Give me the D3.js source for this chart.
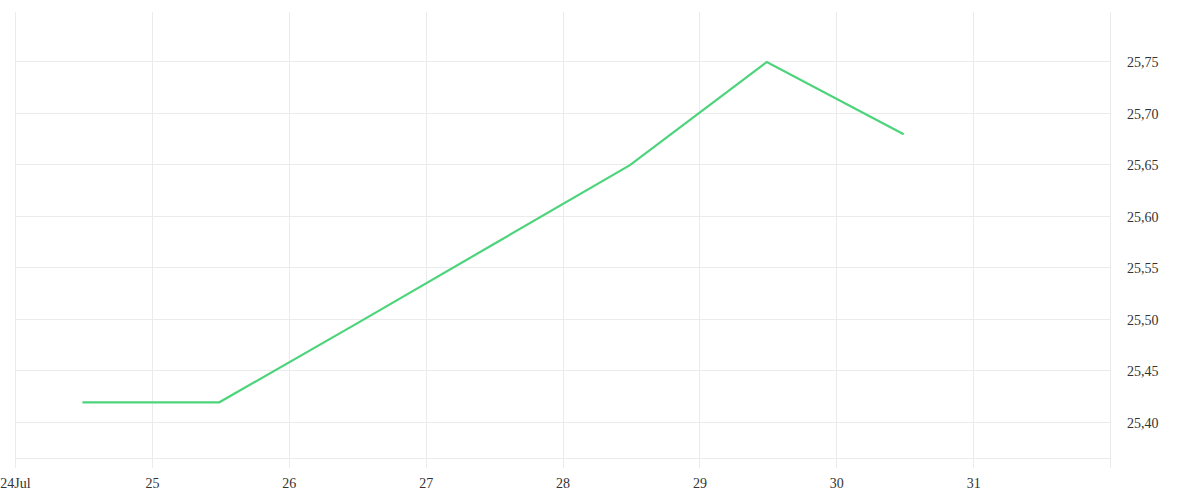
<!DOCTYPE html>
<html>
<head>
<meta charset="utf-8">
<script src="https://cdn.jsdelivr.net/npm/d3@7"></script>
<style>
  html, body { margin: 0; padding: 0; background: #fff; }
  svg { display: block; }
  text { font-family: "Liberation Serif", "DejaVu Serif", serif; }
</style>
</head>
<body>
<svg id="chart" width="1200" height="500"></svg>
<script>
const dates = ["2024-07-24T12:00", "2024-07-25T12:00", "2024-07-26T12:00", "2024-07-27T12:00", "2024-07-28T12:00", "2024-07-29T12:00", "2024-07-30T12:00"];
const values = [25.42, 25.42, 25.496, 25.573, 25.65, 25.75, 25.68];
const yTicks = [25.40, 25.45, 25.50, 25.55, 25.60, 25.65, 25.70, 25.75];
const xTickDays = ["2024-07-24", "2024-07-25", "2024-07-26", "2024-07-27", "2024-07-28", "2024-07-29", "2024-07-30", "2024-07-31"];

(function () {
const svg = d3.select("#chart");
const mLeft = 15, mRight = 1110, mTop = 12, mBottom = 468;
const parse = d3.timeParse("%Y-%m-%dT%H:%M");
const parseDay = d3.timeParse("%Y-%m-%d");

const x = d3.scaleTime()
  .domain([parseDay("2024-07-24"), parseDay("2024-08-01")])
  .range([mLeft, mRight]);
const y = d3.scaleLinear()
  .domain([25.3553, 25.7975])
  .range([mBottom, mTop]);

const grid = svg.append("g").attr("stroke", "#ebebeb").attr("stroke-width", 1);
xTickDays.forEach(d => {
  const xx = Math.round(x(parseDay(d))) + 0.5;
  grid.append("line").attr("x1", xx).attr("x2", xx).attr("y1", mTop).attr("y2", mBottom);
});
grid.append("line").attr("x1", mRight + 0.5).attr("x2", mRight + 0.5).attr("y1", mTop).attr("y2", mBottom);
yTicks.forEach(v => {
  const yy = Math.round(y(v)) + 0.5;
  grid.append("line").attr("x1", mLeft).attr("x2", mRight).attr("y1", yy).attr("y2", yy);
});
grid.append("line").attr("x1", mLeft).attr("x2", mRight).attr("y1", 458.5).attr("y2", 458.5);

const fmtDay = d3.timeFormat("%-d");
svg.append("g").selectAll("text").data(xTickDays).join("text")
  .attr("x", d => x(parseDay(d)) + 0.5)
  .attr("y", 488)
  .attr("text-anchor", "middle")
  .attr("font-size", 14)
  .attr("fill", "#333")
  .text((d, i) => i === 0 ? fmtDay(parseDay(d)) + "Jul" : fmtDay(parseDay(d)));

const fmtY = v => d3.format(".2f")(v).replace(".", ",");
svg.append("g").selectAll("text").data(yTicks).join("text")
  .attr("x", 1127)
  .attr("y", d => Math.round(y(d)) + 6)
  .attr("font-size", 14)
  .attr("fill", "#333")
  .text(fmtY);

const line = d3.line()
  .x((d, i) => x(parse(dates[i])) - 1)
  .y(d => y(d) + 1);
svg.append("path")
  .datum(values)
  .attr("fill", "none")
  .attr("stroke", "#4cd47b")
  .attr("stroke-width", 2.2)
  .attr("d", line);
})();
</script>
</body>
</html>
